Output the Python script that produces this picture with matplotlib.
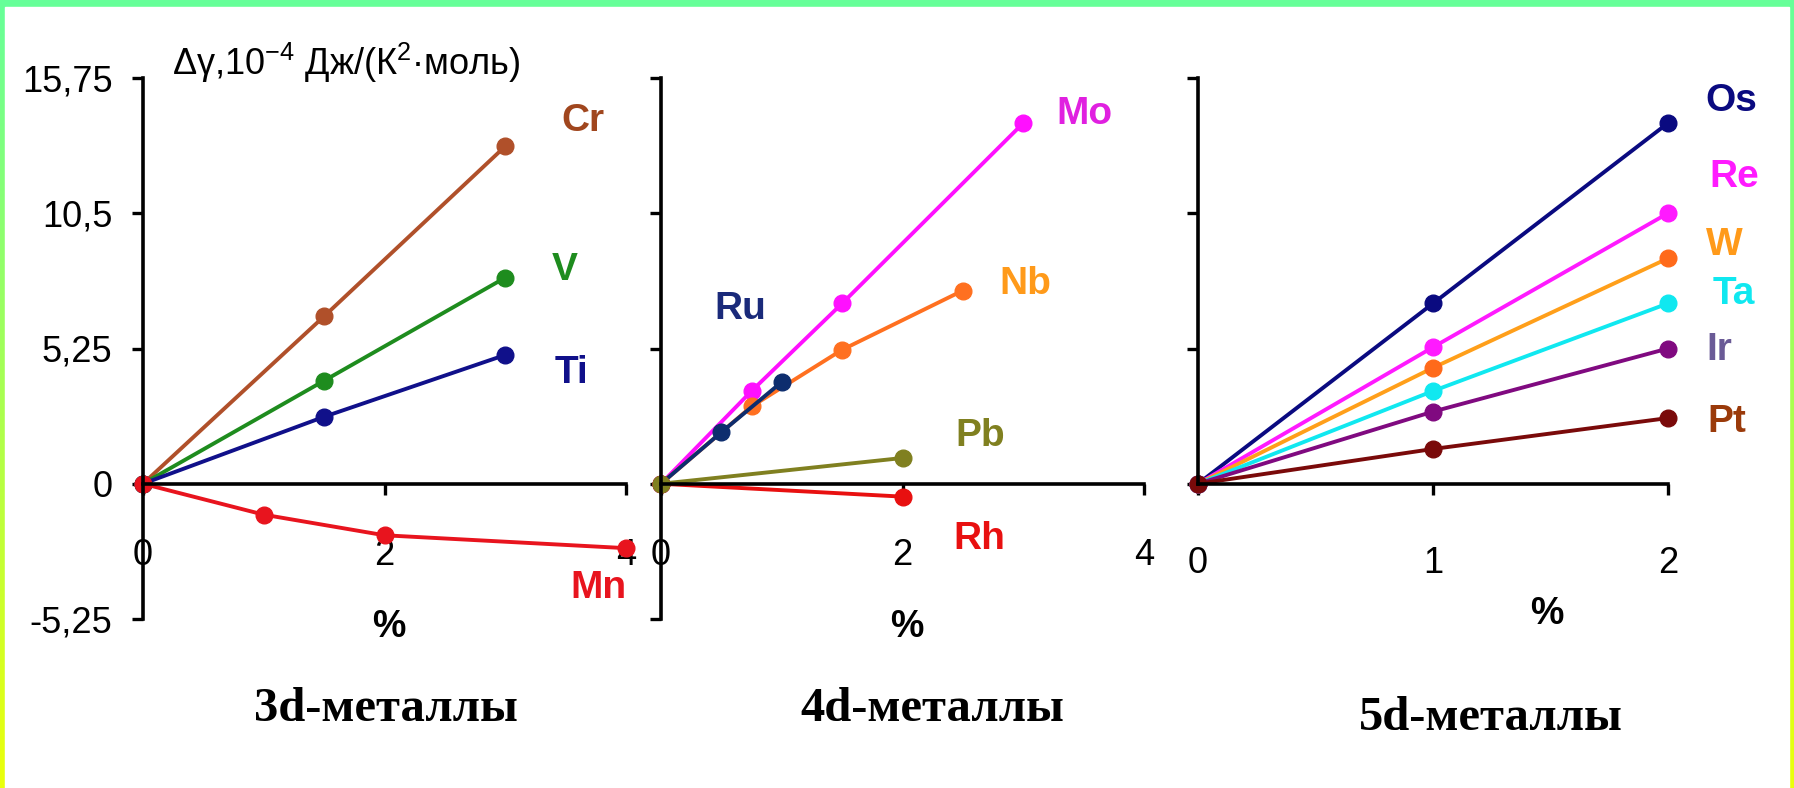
import matplotlib
matplotlib.use("Agg")
import matplotlib.pyplot as plt
import numpy as np
from matplotlib.patches import Rectangle

plt.rcParams['font.family'] = ['Liberation Sans', 'DejaVu Sans']
plt.rcParams['mathtext.fontset'] = 'custom'
plt.rcParams['mathtext.rm'] = 'Liberation Sans'

# --- data ---
# 3d
cr_x = [0, 1.5, 3]
cr_y = [0, 6.5, 13.1]
v_x = [0, 1.5, 3]
v_y = [0, 4.0, 8.0]
ti_x = [0, 1.5, 3]
ti_y = [0, 2.6, 5.0]
mn_x = [0, 1, 2, 4]
mn_y = [0, -1.2, -2.0, -2.5]
# 4d
mo_x = [0, 0.75, 1.5, 3]
mo_y = [0, 3.6, 7.0, 14.0]
nb_x = [0, 0.75, 1.5, 2.5]
nb_y = [0, 3.0, 5.2, 7.5]
ru_x = [0, 0.5, 1]
ru_y = [0, 2.0, 3.95]
rh_x = [0, 2]
rh_y = [0, -0.5]
pb_x = [0, 2]
pb_y = [0, 1.0]
# 5d
d5_x = [0, 1, 2]
os_y = [0, 7.0, 14.0]
re_y = [0, 5.3, 10.5]
w_y = [0, 4.5, 8.75]
ta_y = [0, 3.6, 7.0]
ir_y = [0, 2.8, 5.25]
pt_y = [0, 1.35, 2.55]

y_ticks = [-5.25, 0, 5.25, 10.5, 15.75]
y_tick_labels = ['-5,25', '0', '5,25', '10,5', '15,75']

W, H = 1794, 788
fig = plt.figure(figsize=(W / 100, H / 100), dpi=100)

# gradient frame
bg = fig.add_axes([0, 0, 1, 1], zorder=-10)
grad = np.linspace(0, 1, 256).reshape(-1, 1)
top = np.array([102, 255, 153]) / 255
bot = np.array([235, 255, 10]) / 255
img = top[None, None, :] * (1 - grad[:, :, None]) + bot[None, None, :] * grad[:, :, None]
bg.imshow(img, extent=[0, 1, 0, 1], aspect='auto')
bg.add_patch(Rectangle((5 / W, 0), (1789 - 5) / W, (788 - 7) / H, color='white'))
bg.set_xlim(0, 1)
bg.set_ylim(0, 1)
bg.axis('off')


def px(x, y):
    return x / W, 1 - y / H


def setup(ax, xmax, xticks, pad_x, show_ylabels, ybottom):
    ax.set_xlim(0, xmax)
    ax.set_ylim(-5.25, 15.75)
    ax.patch.set_alpha(0)
    for s in ['top', 'right']:
        ax.spines[s].set_visible(False)
    ax.spines['bottom'].set_position(('data', 0))
    ax.spines['left'].set_bounds(ybottom, 15.75)
    for s in ['bottom', 'left']:
        ax.spines[s].set_linewidth(2.6)
    ax.set_xticks(xticks)
    ax.set_xticklabels([str(t) for t in xticks])
    if ybottom < 0:
        ax.set_yticks(y_ticks)
    else:
        ax.set_yticks(y_ticks[1:])
    if show_ylabels:
        ax.set_yticklabels(y_tick_labels)
    else:
        ax.set_yticklabels([])
    ax.tick_params(axis='both', direction='out', length=8, width=2.4, labelsize=26)
    ax.tick_params(axis='x', pad=pad_x)
    ax.tick_params(axis='y', pad=14)


def series(ax, x, y, color, mcolor=None):
    ax.plot(x, y, '-o', color=color, lw=2.8, ms=12,
            markerfacecolor=mcolor or color, markeredgecolor=mcolor or color,
            clip_on=False)


def label(ax, x, y, s, color):
    ax.text(x, y, s, color=color, fontsize=28, fontweight='bold',
            ha='center', va='center')


ax_w = 483 / W
ax_h = 541 / H
ax_b = (H - 619) / H

# panel 1
ax1 = fig.add_axes([143 / W, ax_b, ax_w, ax_h])
setup(ax1, 4, [0, 2, 4], 31, True, -5.25)
series(ax1, cr_x, cr_y, '#B0502A')
series(ax1, v_x, v_y, '#1E8C1E')
series(ax1, ti_x, ti_y, '#10108A')
series(ax1, mn_x, mn_y, '#E8141E')
label(ax1, 3.64, 14.1, 'Cr', '#A0461E')
label(ax1, 3.49, 8.3, 'V', '#1E8C1E')
label(ax1, 3.55, 4.3, 'Ti', '#10108A')
label(ax1, 3.77, -4.05, 'Mn', '#E8141E')

# panel 2
ax2 = fig.add_axes([661 / W, ax_b, ax_w, ax_h])
setup(ax2, 4, [0, 2, 4], 31, False, -5.25)
series(ax2, mo_x, mo_y, '#FF10FF')
series(ax2, nb_x, nb_y, '#FF7020')
series(ax2, ru_x, ru_y, '#0D2D6E')
series(ax2, rh_x, rh_y, '#E81010')
series(ax2, pb_x, pb_y, '#808020')
label(ax2, 3.51, 14.35, 'Mo', '#E020E0')
label(ax2, 3.02, 7.74, 'Nb', '#FF9A1A')
label(ax2, 0.66, 6.77, 'Ru', '#1A2A7A')
label(ax2, 2.64, 1.87, 'Pb', '#808020')
label(ax2, 2.64, -2.14, 'Rh', '#E81010')

# panel 3
ax3 = fig.add_axes([1198 / W, ax_b, 470 / W, ax_h])
setup(ax3, 2, [0, 1, 2], 37, False, 0)
series(ax3, d5_x, os_y, '#0A0A80')
series(ax3, d5_x, re_y, '#FF1AFF')
series(ax3, d5_x, w_y, '#FF9F1A', '#FF6A1A')
series(ax3, d5_x, ta_y, '#10E8F0')
series(ax3, d5_x, ir_y, '#800A80')
series(ax3, d5_x, pt_y, '#7A0A0A')
label(ax3, 2.27, 14.85, 'Os', '#0A0A80')
label(ax3, 2.28, 11.9, 'Re', '#FF1AFF')
label(ax3, 2.24, 9.26, 'W', '#FF9A1A')
label(ax3, 2.28, 7.35, 'Ta', '#10E8F0')
label(ax3, 2.22, 5.2, 'Ir', '#6A5A96')
label(ax3, 2.25, 2.41, 'Pt', '#9A3A0A')

# axis title
fig.text(*px(172, 63), r'Δγ,10$^{-4}$ Дж/(К$^{2}$·моль)', fontsize=26,
         ha='left', va='center')

for x, y in [(389, 627), (907, 627), (1547, 614)]:
    fig.text(*px(x, y), '%', fontsize=27, fontweight='bold', ha='center', va='center')

for x, y, s in [(386, 709, '3d-металлы'), (932, 709, '4d-металлы'), (1491, 718, '5d-металлы')]:
    fig.text(*px(x, y), s, fontsize=35, fontweight='bold', family='Liberation Serif',
             ha='center', va='center')

fig.savefig('out.png', dpi=100)
